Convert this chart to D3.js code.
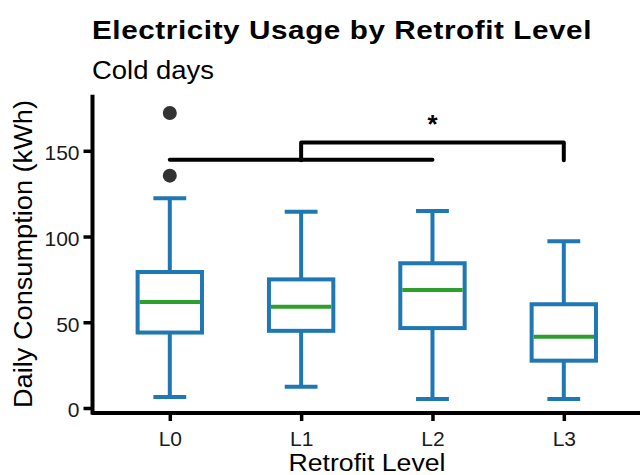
<!DOCTYPE html>
<html lang="en">
<head>
  <meta charset="UTF-8">
  <title>Electricity Usage by Retrofit Level</title>
  <script src="https://d3js.org/d3.v7.min.js"></script>
  <style>
    body { margin: 0; background: #fff; }
    svg text { font-family: "Liberation Sans", Arial, sans-serif; }
  </style>
</head>
<body>
<script>
  // Dados
  const levels = ["L0", "L1", "L2", "L3"];
  const whiskerLow = [6.4, 12.4, 5.2, 5.2];
  const q1 = [44, 45, 46.6, 27.6];
  const medians = [61.8, 59, 68.8, 41.6];
  const q3 = [79.3, 75, 84.4, 60.5];
  const whiskerHigh = [122.3, 114.5, 114.9, 97.2];
  const outliers = [["L0", 172], ["L0", 135.5]];
  const yTicks = [0, 50, 100, 150];
  // comparações: [de, até, altura, altura das pontas, rótulo]
  const comparisons = [["L0", "L2", 144.8, 144.8, ""], ["L1", "L3", 154.8, 144.5, "*"]];

  const width = 640, height = 475;

  const svg = d3.select("body")
    .append("svg")
    .attr("width", width)
    .attr("height", height);

  // Escalas
  const x = d3.scalePoint()
    .domain(levels)
    .range([91, 642.6])
    .padding(0.6);

  const y = d3.scaleLinear()
    .domain([-3.5, 183])
    .range([414, 94.2]);

  const step = x.step();
  const boxW = step * 0.49;
  const capW = step * 0.25;
  const blue = "#1f77b4", green = "#2ca02c";

  // Títulos
  svg.append("text")
    .attr("x", 92).attr("y", 38.5)
    .attr("textLength", 500).attr("lengthAdjust", "spacingAndGlyphs")
    .style("font-size", "26px").style("font-weight", "bold")
    .style("letter-spacing", "0.5px")
    .text("Electricity Usage by Retrofit Level");

  svg.append("text")
    .attr("x", 92).attr("y", 78.5)
    .attr("textLength", 122).attr("lengthAdjust", "spacingAndGlyphs")
    .style("font-size", "25px")
    .text("Cold days");

  // Eixos
  const yAxis = svg.append("g")
    .attr("transform", "translate(92,0)")
    .call(d3.axisLeft(y).tickValues(yTicks).tickSize(8.5).tickSizeOuter(0).tickPadding(4));
  yAxis.select(".domain").attr("stroke-width", 4);
  yAxis.selectAll(".tick line").attr("stroke-width", 3.5);
  yAxis.selectAll(".tick text").style("font-size", "21px").attr("dy", "0.42em").attr("fill", "#1a1a1a");

  const xAxis = svg.append("g")
    .attr("transform", "translate(0,412.5)")
    .call(d3.axisBottom(x).tickSize(8.5).tickSizeOuter(0).tickPadding(10));
  xAxis.select(".domain").attr("stroke-width", 4);
  xAxis.selectAll(".tick line").attr("stroke-width", 3.5);
  xAxis.selectAll(".tick text").style("font-size", "21px").attr("fill", "#1a1a1a");

  svg.append("text")
    .attr("transform", `translate(31.5,254) rotate(-90)`)
    .attr("textLength", 308).attr("lengthAdjust", "spacingAndGlyphs")
    .style("text-anchor", "middle")
    .style("font-size", "25px")
    .text("Daily Consumption (kWh)");

  svg.append("text")
    .attr("x", 367).attr("y", 470.5)
    .attr("textLength", 157).attr("lengthAdjust", "spacingAndGlyphs")
    .style("text-anchor", "middle")
    .style("font-size", "23px")
    .text("Retrofit Level");

  // Boxplots
  const boxes = svg.append("g");
  levels.forEach((lv, i) => {
    const cx = x(lv);
    const g = boxes.append("g");
    g.append("line")
      .attr("x1", cx).attr("x2", cx)
      .attr("y1", y(whiskerLow[i])).attr("y2", y(q1[i]))
      .attr("stroke", blue).attr("stroke-width", 4);
    g.append("line")
      .attr("x1", cx).attr("x2", cx)
      .attr("y1", y(q3[i])).attr("y2", y(whiskerHigh[i]))
      .attr("stroke", blue).attr("stroke-width", 4);
    [whiskerLow[i], whiskerHigh[i]].forEach(v => {
      g.append("line")
        .attr("x1", cx - capW / 2).attr("x2", cx + capW / 2)
        .attr("y1", y(v)).attr("y2", y(v))
        .attr("stroke", blue).attr("stroke-width", 4);
    });
    g.append("rect")
      .attr("x", cx - boxW / 2).attr("width", boxW)
      .attr("y", y(q3[i])).attr("height", y(q1[i]) - y(q3[i]))
      .attr("fill", "white")
      .attr("stroke", blue).attr("stroke-width", 4);
    g.append("line")
      .attr("x1", cx - boxW / 2 + 2).attr("x2", cx + boxW / 2 - 2)
      .attr("y1", y(medians[i])).attr("y2", y(medians[i]))
      .attr("stroke", green).attr("stroke-width", 4);
  });

  // Outliers
  svg.selectAll("circle.out")
    .data(outliers)
    .enter()
    .append("circle")
    .attr("class", "out")
    .attr("cx", d => x(d[0]))
    .attr("cy", d => y(d[1]))
    .attr("r", 7)
    .attr("fill", "#333");

  // Colchetes de significância
  comparisons.forEach(c => {
    const x1 = x(c[0]), x2 = x(c[1]);
    const yt = y(c[2]), yb = y(c[3]);
    svg.append("path")
      .attr("d", `M${x1},${yb}L${x1},${yt}L${x2},${yt}L${x2},${yb}`)
      .attr("fill", "none")
      .attr("stroke", "black")
      .attr("stroke-width", 4)
      .attr("stroke-linecap", "round")
      .attr("stroke-linejoin", "round");
    if (c[4]) {
      svg.append("text")
        .attr("x", (x1 + x2) / 2)
        .attr("y", yt - 10)
        .style("text-anchor", "middle")
        .style("font-size", "26px")
        .style("font-weight", "bold")
        .text(c[4]);
    }
  });
</script>
</body>
</html>
